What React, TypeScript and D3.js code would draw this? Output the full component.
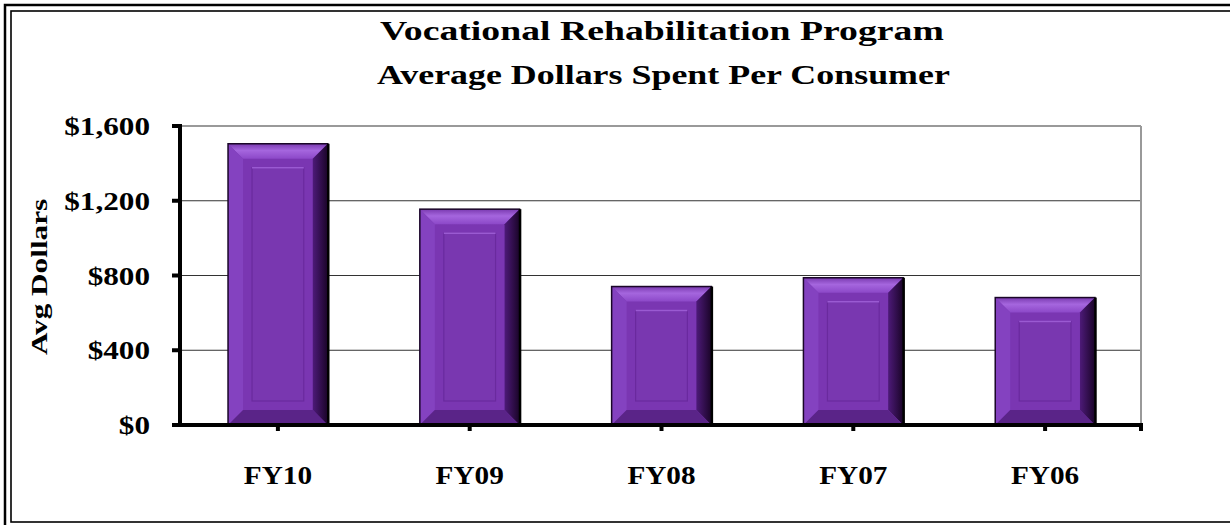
import React, { useEffect, useRef } from "react";
import * as d3 from "d3";

const categories = ["FY10", "FY09", "FY08", "FY07", "FY06"];
const avgDollars = [1505, 1155, 741, 788, 682];
const yTicks = [0, 400, 800, 1200, 1600];
const titleLines = ["Vocational Rehabilitation Program", "Average Dollars Spent Per Consumer"];
const yAxisTitle = "Avg Dollars";

const FONT = "'Liberation Serif', 'Times New Roman', serif";

export default function App() {
  const ref = useRef<SVGSVGElement>(null);

  useEffect(() => {
    const svg = d3.select(ref.current);
    svg.selectAll("*").remove();

    const width = 1230;
    const height = 525;
    const left = 180;
    const right = 1141;
    const top = 126;
    const bottom = 425;

    // the original text is wider than the font draws it: stretch the glyphs sideways
    // around the anchor point (x, y) by a factor
    const label = (txt: string, x: number, y: number, size: number, anchor: string, sx: number, rotate = 0) => {
      const t = svg.append("text")
        .attr("transform", `translate(${x},${y}) rotate(${rotate}) scale(${sx},1)`)
        .attr("text-anchor", anchor)
        .style("font-family", FONT).style("font-weight", "bold").style("font-size", `${size}px`)
        .text(txt);
      return t;
    };
    // same, but fit between two x positions
    const spanLabel = (txt: string, x0: number, x1: number, y: number, size: number) => {
      const t = label(txt, 0, 0, size, "start", 1);
      const len = (t.node() as SVGTextElement).getComputedTextLength();
      t.attr("transform", `translate(${x0},${y}) scale(${(x1 - x0) / len},1)`);
      return t;
    };

    svg.append("rect").attr("width", width).attr("height", height).attr("fill", "#fff");

    // double frame (runs off the right and bottom of the picture)
    svg.append("rect")
      .attr("x", 5).attr("y", 5).attr("width", 1233).attr("height", 523)
      .attr("fill", "none").attr("stroke", "#000").attr("stroke-width", 2.5);
    svg.append("rect")
      .attr("x", 11).attr("y", 11).attr("width", 1221).attr("height", 511)
      .attr("fill", "none").attr("stroke", "#000").attr("stroke-width", 1.6);

    const x = d3.scaleBand<string>()
      .domain(categories)
      .range([left + 2, right])
      .paddingInner(0.48)
      .paddingOuter(0.24);
    const y = d3.scaleLinear().domain([0, 1600]).range([bottom, top]);

    // gridlines
    yTicks.filter((t) => t > 0).forEach((t) => {
      svg.append("line")
        .attr("x1", left).attr("x2", right)
        .attr("y1", y(t)).attr("y2", y(t))
        .attr("stroke", t === 1600 ? "#999" : "#333")
        .attr("stroke-width", t === 1600 ? 2 : 1);
    });
    // right border of plot area
    svg.append("line")
      .attr("x1", right).attr("x2", right)
      .attr("y1", top).attr("y2", bottom)
      .attr("stroke", "#999").attr("stroke-width", 2);

    const defs = svg.append("defs");
    const rg = defs.append("linearGradient").attr("id", "rightBevel").attr("x1", 0).attr("x2", 1).attr("y1", 0).attr("y2", 0);
    rg.append("stop").attr("offset", "0%").attr("stop-color", "#4d1a78");
    rg.append("stop").attr("offset", "100%").attr("stop-color", "#1a0428");
    const tg = defs.append("linearGradient").attr("id", "topBevel").attr("x1", 0).attr("x2", 0).attr("y1", 0).attr("y2", 1);
    tg.append("stop").attr("offset", "0%").attr("stop-color", "#7a3ab0");
    tg.append("stop").attr("offset", "45%").attr("stop-color", "#a566de");
    tg.append("stop").attr("offset", "100%").attr("stop-color", "#8c48c8");

    const b = 15;
    categories.forEach((c, i) => {
      const x0 = x(c)!;
      const x1 = x0 + x.bandwidth();
      const y0 = y(avgDollars[i]);
      const y1 = bottom;
      const g = svg.append("g");
      const poly = (pts: number[][], fill: string) =>
        g.append("polygon").attr("points", pts.map((p) => p.join(",")).join(" ")).attr("fill", fill);

      g.append("rect").attr("x", x0).attr("y", y0).attr("width", x1 - x0).attr("height", y1 - y0).attr("fill", "#7a36b2");
      poly([[x0, y0], [x1, y0], [x1 - b, y0 + b], [x0 + b, y0 + b]], "url(#topBevel)");
      poly([[x0, y0], [x0 + b, y0 + b], [x0 + b, y1 - b], [x0, y1]], "#8442c0");
      poly([[x1, y0], [x1, y1], [x1 - b, y1 - b], [x1 - b, y0 + b]], "url(#rightBevel)");
      poly([[x0, y1], [x1, y1], [x1 - b, y1 - b], [x0 + b, y1 - b]], "#5a2488");

      // inner raised panel
      const inset = b + 9;
      g.append("rect")
        .attr("x", x0 + inset).attr("y", y0 + inset)
        .attr("width", x1 - x0 - inset * 2).attr("height", Math.max(0, y1 - y0 - inset * 2))
        .attr("fill", "#7937b0").attr("stroke", "#6a2a9e").attr("stroke-width", 1.2);
      g.append("line")
        .attr("x1", x0 + inset).attr("x2", x1 - inset)
        .attr("y1", y0 + inset).attr("y2", y0 + inset)
        .attr("stroke", "#9a5ad2").attr("stroke-width", 1.5);

      g.append("rect").attr("x", x0).attr("y", y0).attr("width", x1 - x0).attr("height", y1 - y0)
        .attr("fill", "none").attr("stroke", "#1a0628").attr("stroke-width", 1.5);
      g.append("line").attr("x1", x1 + 0.5).attr("x2", x1 + 0.5).attr("y1", y0).attr("y2", y1)
        .attr("stroke", "#000").attr("stroke-width", 2.5);
    });

    // axes
    svg.append("line").attr("x1", left).attr("x2", left).attr("y1", top - 2).attr("y2", bottom + 2)
      .attr("stroke", "#000").attr("stroke-width", 4);
    svg.append("line").attr("x1", left - 2).attr("x2", right + 2).attr("y1", bottom).attr("y2", bottom)
      .attr("stroke", "#000").attr("stroke-width", 4);
    yTicks.forEach((t) => {
      svg.append("line").attr("x1", left - 8).attr("x2", left).attr("y1", y(t)).attr("y2", y(t))
        .attr("stroke", "#000").attr("stroke-width", 4);
      label(d3.format("$,")(t), 150, y(t) + 9, 26, "end", 1.2);
    });
    categories.forEach((c) => {
      const cx = x(c)! + x.bandwidth() / 2;
      svg.append("line").attr("x1", cx).attr("x2", cx).attr("y1", bottom).attr("y2", bottom + 6)
        .attr("stroke", "#000").attr("stroke-width", 4);
      label(c, cx, 484, 25, "middle", 1.17);
    });
    svg.append("line").attr("x1", right).attr("x2", right).attr("y1", bottom).attr("y2", bottom + 6)
      .attr("stroke", "#000").attr("stroke-width", 4);

    // titles
    spanLabel(titleLines[0], 380, 944, 40, 28);
    spanLabel(titleLines[1], 377, 950, 84, 28);
    label(yAxisTitle, 46.5, 277, 24, "middle", 1.3, -90);
  }, []);

  return (
    <svg ref={ref} width={1230} height={525} style={{ position: "absolute", left: 0, top: 0 }} />
  );
}
